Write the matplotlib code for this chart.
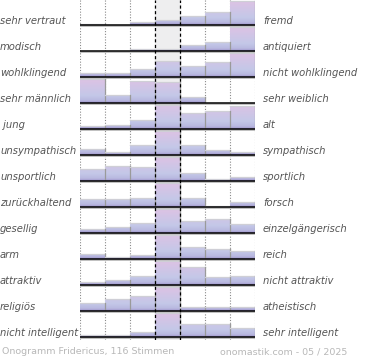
import matplotlib
matplotlib.use("Agg")
import matplotlib.pyplot as plt
import numpy as np
from matplotlib.colors import LinearSegmentedColormap
from matplotlib.patches import Polygon

left_labels = ["sehr vertraut", "modisch", "wohlklingend", "sehr männlich", " jung",
               "unsympathisch", "unsportlich", "zurückhaltend", "gesellig", "arm",
               "attraktiv", "religiös", "nicht intelligent"]
right_labels = ["fremd", "antiquiert", "nicht wohlklingend", "sehr weiblich", "alt",
                "sympathisch", "sportlich", "forsch", "einzelgängerisch", "reich",
                "nicht attraktiv", "atheistisch", "sehr intelligent"]

# relative bar heights per row (7 steps, max = 1)
vertraut = [0.04, 0.0, 0.14, 0.19, 0.38, 0.53, 1.0]
modisch = [0.0, 0.0, 0.07, 0.08, 0.24, 0.36, 1.0]
wohlklingend = [0.15, 0.15, 0.32, 0.66, 0.47, 0.62, 1.0]
maennlich = [1.0, 0.35, 0.92, 0.86, 0.25, 0.0, 0.0]
jung = [0.11, 0.17, 0.36, 1.0, 0.65, 0.74, 0.97]
unsympathisch = [0.26, 0.13, 0.43, 1.0, 0.43, 0.21, 0.13]
unsportlich = [0.51, 0.61, 0.57, 1.0, 0.32, 0.08, 0.15]
zurueckhaltend = [0.32, 0.32, 0.36, 1.0, 0.36, 0.05, 0.19]
gesellig = [0.18, 0.24, 0.40, 1.0, 0.51, 0.57, 0.37]
arm = [0.21, 0.07, 0.15, 1.0, 0.51, 0.43, 0.32]
attraktiv = [0.13, 0.21, 0.36, 1.0, 0.74, 0.32, 0.36]
religioes = [0.33, 0.50, 0.64, 1.0, 0.17, 0.17, 0.15]
intelligent = [0.07, 0.07, 0.19, 1.0, 0.54, 0.54, 0.37]

rows = [vertraut, modisch, wohlklingend, maennlich, jung, unsympathisch, unsportlich,
        zurueckhaltend, gesellig, arm, attraktiv, religioes, intelligent]

footer_left = "Onogramm Fridericus, 116 Stimmen"
footer_right = "onomastik.com - 05 / 2025"

W, H = 370, 360
fig = plt.figure(figsize=(W / 100, H / 100), dpi=100)
# plot region in pixels: x 80..255, y 0..340
ax = fig.add_axes([80 / W, 1 - 340 / H, 175 / W, 340 / H])
n = len(rows)
ax.set_xlim(0, 7)
ax.set_ylim(340 / 26, 0)
ax.axis("off")

grad = LinearSegmentedColormap.from_list(
    "g", [(0, "#dec2e4"), (0.7, "#c4c8e8"), (0.9, "#b9b9e0"), (1.0, "#9d92ca")])
gimg = np.linspace(0, 1, 64).reshape(-1, 1)

ax.axvspan(3, 4, color="#eeeeef", zorder=0)
for x in [0, 1, 2, 5, 6, 7]:
    ax.axvline(x, color="#8a8a8a", ls=(0, (1, 1.5)), lw=0.8, zorder=1)

maxh = 24 / 26
for r, vals in enumerate(rows):
    base = r + 25 / 26
    xs, ys = [0], [base]
    for c, v in enumerate(vals):
        xs += [c, c + 1]
        ys += [base - v * maxh, base - v * maxh]
    xs.append(7)
    ys.append(base)
    poly = Polygon(np.column_stack([xs, ys]), closed=True, fc="none", ec="none")
    ax.add_patch(poly)
    im = ax.imshow(gimg, cmap=grad, aspect="auto", extent=(0, 7, base, base - 25 / 26),
                   interpolation="bilinear", zorder=2)
    im.set_clip_path(poly)
    # bar outlines
    for c, v in enumerate(vals):
        if v > 0:
            top = base - v * maxh
            ax.plot([c, c + 1], [top, top], color="#cfcfd6", lw=0.9, zorder=3)
            ax.plot([c + 1, c + 1], [top, base], color="#9a9a9a", lw=0.9, zorder=3)
    ax.plot([0, 7], [base + 0.05, base + 0.05], color="#c0c0c0", lw=1.4, zorder=3,
            solid_capstyle="butt")
    ax.plot([0, 7], [base, base], color="black", lw=1.1, zorder=4, solid_capstyle="butt")

for x in [3, 4]:
    ax.axvline(x, color="black", ls=(0, (2.5, 2)), lw=0.9, zorder=5)

for r in range(n):
    yc = (25 + 26 * r - 4.5) / H
    fig.text(0 / W, 1 - yc, left_labels[r], ha="left", va="center", fontsize=7.2,
             style="italic", color="#555555")
    fig.text(263 / W, 1 - yc, right_labels[r], ha="left", va="center", fontsize=7.2,
             style="italic", color="#555555")

fig.text(2 / W, 1 - 352 / H, footer_left, ha="left", va="center", fontsize=6.8,
         color="#b8b8b8")
fig.text(220 / W, 1 - 352 / H, footer_right, ha="left", va="center", fontsize=6.8,
         color="#b8b8b8")

fig.savefig("out.png", dpi=100)
